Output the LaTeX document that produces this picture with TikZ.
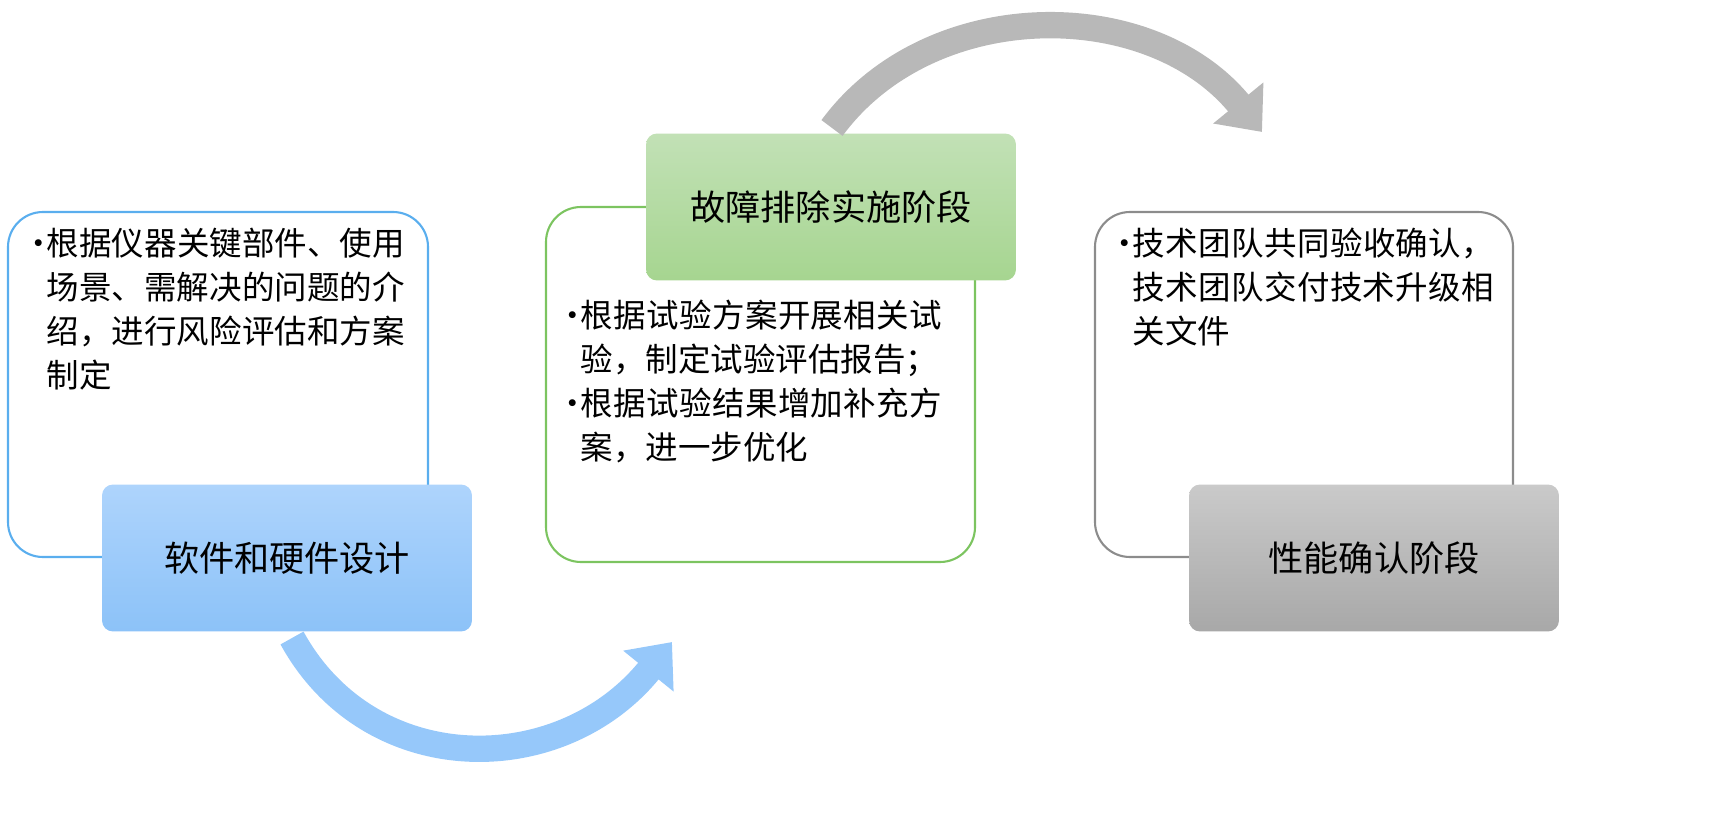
\documentclass[tikz,border=0pt]{standalone}
\usepackage{fontspec}
\setmainfont{Noto Sans CJK SC}
\XeTeXlinebreaklocale "zh"
\XeTeXlinebreakskip=0pt plus 1pt
\usetikzlibrary{arrows.meta}
\definecolor{bluedge}{HTML}{5AAEEE}
\definecolor{greenedge}{HTML}{7CC460}
\definecolor{grayedge}{HTML}{8C8C8C}
\newcommand{\bitem}[1]{\hangindent=0.75em\hangafter=1\noindent\makebox[0.75em][l]{•}#1\par}
\tikzset{
  outline/.style={draw,line width=1.2pt,rounded corners=0.7cm},
  stage/.style={rounded corners=0.22cm,minimum width=7.4cm,minimum height=2.94cm,
    font=\fontsize{20}{24}\selectfont},
  bullets/.style={anchor=north west,text width=#1,align=left,inner sep=0pt,
    font=\fontsize{18.5}{25}\selectfont},
  bigarrow/.style={line width=15pt,-{Triangle[length=0.75cm,width=1.25cm]}}
}
\begin{document}
\begin{tikzpicture}[x=0.02cm,y=-0.02cm]
  \useasboundingbox (0,0) rectangle (1710,824);
  \clip (0,0) rectangle (1710,824);
  % outline boxes
  \draw[outline,bluedge] (8,212) rectangle (428,557);
  \draw[outline,greenedge] (546,207) rectangle (975,562);
  \draw[outline,grayedge] (1095,212) rectangle (1513,557);
  % texts
  \node[bullets=7.7cm] (t1) at (22,228) {\bitem{根据仪器关键部件、使用场景、需解决的问题的介绍，进行风险评估和方案制定}};
  \node[bullets=8.0cm] (t2) at (556,300) {\bitem{根据试验方案开展相关试验，制定试验评估报告；}\bitem{根据试验结果增加补充方案，进一步优化}};
  \node[bullets=8.0cm] (t3) at (1108,228) {\bitem{技术团队共同验收确认，技术团队交付技术升级相关文件}};
  % stage labels
  \node[stage,top color={rgb,255:red,174;green,212;blue,252},bottom color={rgb,255:red,140;green,194;blue,248}] (s1) at (287,558) {软件和硬件设计};
  \node[stage,top color={rgb,255:red,194;green,225;blue,182},bottom color={rgb,255:red,166;green,213;blue,144}] (s2) at (831,207) {故障排除实施阶段};
  \node[stage,top color={rgb,255:red,202;green,202;blue,202},bottom color={rgb,255:red,168;green,168;blue,168}] (s3) at (1374,558) {性能确认阶段};
  % arrows
  \coordinate (a1) at (292,638);
  \coordinate (a2) at (672,642);
  \coordinate (b1) at (832,128);
  \coordinate (b2) at (1262,132);
  \draw[bigarrow,color={rgb,255:red,150;green,200;blue,250}] (a1) .. controls (370,780) and (560,780) .. (a2);
  \draw[bigarrow,color={rgb,255:red,184;green,184;blue,184}] (b1) .. controls (930,-5) and (1150,-5) .. (b2);
\end{tikzpicture}
\end{document}
